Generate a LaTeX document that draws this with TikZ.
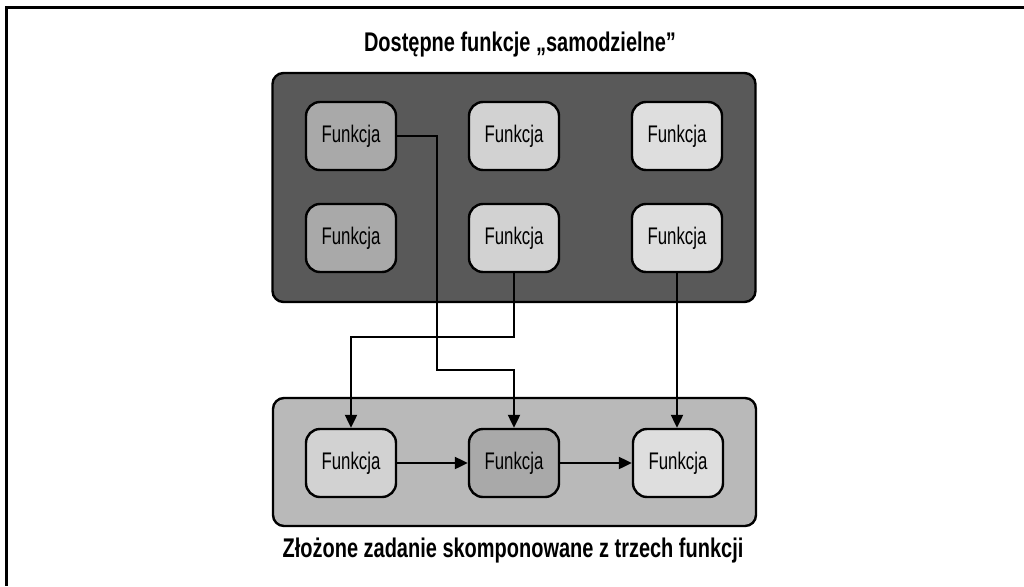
\documentclass[tikz,border=0pt]{standalone}
\usepackage{fontspec}
\setmainfont{Liberation Sans}[FakeStretch=0.70]
\newfontfamily\ttlfont{Liberation Sans}[FakeStretch=0.74]
\usetikzlibrary{arrows.meta}
\definecolor{darkbox}{HTML}{595959}
\definecolor{lowbox}{HTML}{B9B9B9}
\definecolor{midfn}{HTML}{A9A9A9}
\definecolor{litefn}{HTML}{D2D2D2}
\definecolor{palefn}{HTML}{DEDEDE}
\tikzset{
  fn/.style={draw=black, line width=2.4pt, rounded corners=14pt, minimum width=90pt, minimum height=68pt, inner sep=0pt, font=\fontsize{24}{26}\selectfont},
  group/.style={draw=black, line width=2.4pt, rounded corners=11pt},
  arr/.style={draw=black, line width=2.2pt, -{Triangle[length=13pt,width=12pt]}},
  ttl/.style={font=\ttlfont\bfseries\fontsize{27}{30}\selectfont}
}
\begin{document}
\begin{tikzpicture}[x=1pt,y=-1pt]
\useasboundingbox (0,0) rectangle (1024,586);
\fill[white] (0,0) rectangle (1024,586);
\draw[line width=2.5pt] (1024,7.5) -- (6.5,7.5) -- (6.5,586);
\node[ttl] (title) at (520,45) {Dostępne funkcje „samodzielne”};
\node[ttl] (foot) at (513,551) {Złożone zadanie skomponowane z trzech funkcji};
\node[group, fill=darkbox, minimum width=483pt, minimum height=229pt] (top) at (514,187.5) {};
\node[group, fill=lowbox, minimum width=483pt, minimum height=128pt] (bottom) at (514.5,462) {};
\node[fn, fill=midfn] (t1) at (351,136) {Funkcja};
\node[fn, fill=litefn] (t2) at (514,136) {Funkcja};
\node[fn, fill=palefn] (t3) at (677,136) {Funkcja};
\node[fn, fill=midfn] (t4) at (351,238) {Funkcja};
\node[fn, fill=litefn] (t5) at (514,238) {Funkcja};
\node[fn, fill=palefn] (t6) at (677,238) {Funkcja};
\node[fn, fill=litefn] (b1) at (351,463) {Funkcja};
\node[fn, fill=midfn] (b2) at (514,463) {Funkcja};
\node[fn, fill=palefn] (b3) at (678,463) {Funkcja};
\coordinate (j1) at (437,370);
\coordinate (j2) at (351,337);
\draw[arr] (t1.east) -| (j1) -| (b2.north);
\draw[arr] (t5.south) |- (j2) -- (b1.north);
\draw[arr] (t6.south) -- (t6.south |- b3.north);
\draw[arr] (b1.east) -- (b2.west);
\draw[arr] (b2.east) -- (b3.west);
\end{tikzpicture}
\end{document}
